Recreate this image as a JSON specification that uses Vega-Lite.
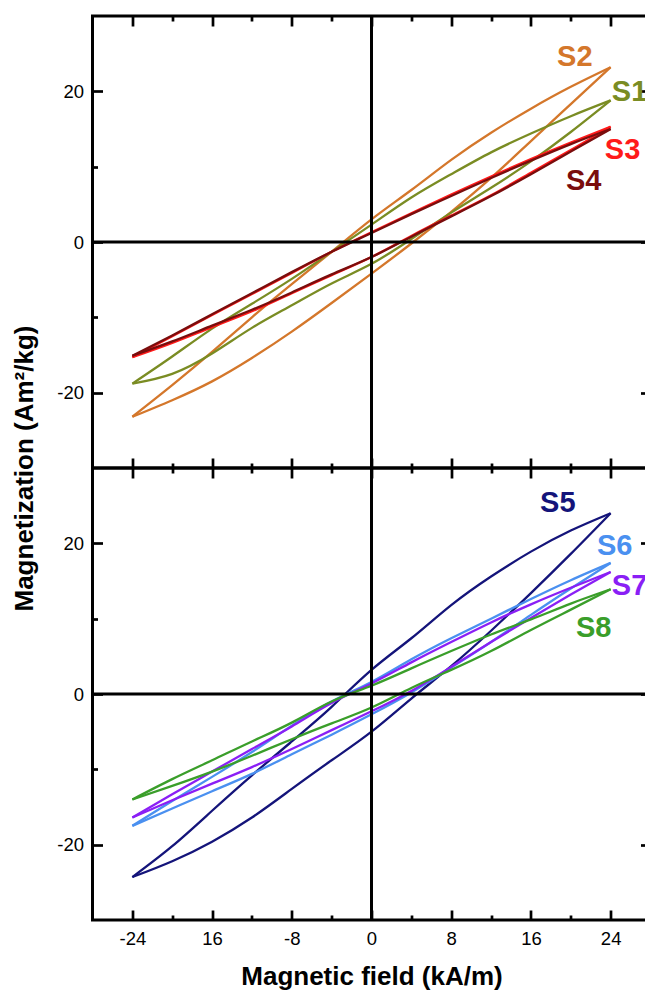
{
"$schema": "https://vega.github.io/schema/vega-lite/v6.json",
"padding": {"left": 9.5, "top": 13, "right": -6, "bottom": 0},
"background": "white",
"spacing": 0,
"bounds": "flush",
"config": {
  "view": {"stroke": "black", "strokeWidth": 3},
  "font": "Liberation Sans",
  "axis": {"grid": false, "domain": false, "tickColor": "black", "tickWidth": 2.7, "labelColor": "black", "labelFont": "Liberation Sans", "labelFontSize": 18.5, "titleFont": "Liberation Sans", "titleFontSize": 26, "titleFontWeight": "bold", "titleColor": "black"}
},
"datasets": {
"labels": [
{"panel":"top","sample":"S2","H":20.4,"M":24.5},
{"panel":"top","sample":"S1","H":25.9,"M":19.9},
{"panel":"top","sample":"S3","H":25.2,"M":12.2},
{"panel":"top","sample":"S4","H":21.3,"M":8.1},
{"panel":"bottom","sample":"S5","H":18.7,"M":25.4},
{"panel":"bottom","sample":"S6","H":24.4,"M":19.7},
{"panel":"bottom","sample":"S7","H":25.9,"M":14.3},
{"panel":"bottom","sample":"S8","H":22.3,"M":8.8}
],
"loops": [
{"panel":"top","sample":"S2","branch":"upper","H":-24,"M":-23.2},
{"panel":"top","sample":"S2","branch":"upper","H":-20,"M":-19.0},
{"panel":"top","sample":"S2","branch":"upper","H":-16,"M":-14.6},
{"panel":"top","sample":"S2","branch":"upper","H":-12,"M":-10.0},
{"panel":"top","sample":"S2","branch":"upper","H":-8,"M":-5.6},
{"panel":"top","sample":"S2","branch":"upper","H":-4,"M":-1.3},
{"panel":"top","sample":"S2","branch":"upper","H":0,"M":3.0},
{"panel":"top","sample":"S2","branch":"upper","H":4,"M":6.9},
{"panel":"top","sample":"S2","branch":"upper","H":8,"M":10.9},
{"panel":"top","sample":"S2","branch":"upper","H":12,"M":14.5},
{"panel":"top","sample":"S2","branch":"upper","H":16,"M":17.7},
{"panel":"top","sample":"S2","branch":"upper","H":20,"M":20.6},
{"panel":"top","sample":"S2","branch":"upper","H":24,"M":23.2},
{"panel":"top","sample":"S2","branch":"lower","H":-24,"M":-23.2},
{"panel":"top","sample":"S2","branch":"lower","H":-20,"M":-21.0},
{"panel":"top","sample":"S2","branch":"lower","H":-16,"M":-18.5},
{"panel":"top","sample":"S2","branch":"lower","H":-12,"M":-15.4},
{"panel":"top","sample":"S2","branch":"lower","H":-8,"M":-11.9},
{"panel":"top","sample":"S2","branch":"lower","H":-4,"M":-8.1},
{"panel":"top","sample":"S2","branch":"lower","H":0,"M":-4.2},
{"panel":"top","sample":"S2","branch":"lower","H":4,"M":-0.2},
{"panel":"top","sample":"S2","branch":"lower","H":8,"M":4.0},
{"panel":"top","sample":"S2","branch":"lower","H":12,"M":8.5},
{"panel":"top","sample":"S2","branch":"lower","H":16,"M":13.4},
{"panel":"top","sample":"S2","branch":"lower","H":20,"M":18.3},
{"panel":"top","sample":"S2","branch":"lower","H":24,"M":23.2},
{"panel":"top","sample":"S1","branch":"upper","H":-24,"M":-18.8},
{"panel":"top","sample":"S1","branch":"upper","H":-20,"M":-15.2},
{"panel":"top","sample":"S1","branch":"upper","H":-16,"M":-11.5},
{"panel":"top","sample":"S1","branch":"upper","H":-12,"M":-8.2},
{"panel":"top","sample":"S1","branch":"upper","H":-8,"M":-4.9},
{"panel":"top","sample":"S1","branch":"upper","H":-4,"M":-1.3},
{"panel":"top","sample":"S1","branch":"upper","H":0,"M":2.3},
{"panel":"top","sample":"S1","branch":"upper","H":4,"M":5.9},
{"panel":"top","sample":"S1","branch":"upper","H":8,"M":9.0},
{"panel":"top","sample":"S1","branch":"upper","H":12,"M":11.9},
{"panel":"top","sample":"S1","branch":"upper","H":16,"M":14.4},
{"panel":"top","sample":"S1","branch":"upper","H":20,"M":16.7},
{"panel":"top","sample":"S1","branch":"upper","H":24,"M":18.8},
{"panel":"top","sample":"S1","branch":"lower","H":-24,"M":-18.8},
{"panel":"top","sample":"S1","branch":"lower","H":-20,"M":-17.5},
{"panel":"top","sample":"S1","branch":"lower","H":-16,"M":-14.8},
{"panel":"top","sample":"S1","branch":"lower","H":-12,"M":-11.4},
{"panel":"top","sample":"S1","branch":"lower","H":-8,"M":-8.4},
{"panel":"top","sample":"S1","branch":"lower","H":-4,"M":-5.5},
{"panel":"top","sample":"S1","branch":"lower","H":0,"M":-2.9},
{"panel":"top","sample":"S1","branch":"lower","H":4,"M":0.4},
{"panel":"top","sample":"S1","branch":"lower","H":8,"M":3.9},
{"panel":"top","sample":"S1","branch":"lower","H":12,"M":7.2},
{"panel":"top","sample":"S1","branch":"lower","H":16,"M":10.7},
{"panel":"top","sample":"S1","branch":"lower","H":20,"M":14.6},
{"panel":"top","sample":"S1","branch":"lower","H":24,"M":18.8},
{"panel":"top","sample":"S3","branch":"upper","H":-24,"M":-15.3},
{"panel":"top","sample":"S3","branch":"upper","H":-20,"M":-12.5},
{"panel":"top","sample":"S3","branch":"upper","H":-16,"M":-9.7},
{"panel":"top","sample":"S3","branch":"upper","H":-12,"M":-6.9},
{"panel":"top","sample":"S3","branch":"upper","H":-8,"M":-4.1},
{"panel":"top","sample":"S3","branch":"upper","H":-4,"M":-1.3},
{"panel":"top","sample":"S3","branch":"upper","H":0,"M":1.3},
{"panel":"top","sample":"S3","branch":"upper","H":4,"M":3.8},
{"panel":"top","sample":"S3","branch":"upper","H":8,"M":6.3},
{"panel":"top","sample":"S3","branch":"upper","H":12,"M":8.7},
{"panel":"top","sample":"S3","branch":"upper","H":16,"M":11.0},
{"panel":"top","sample":"S3","branch":"upper","H":20,"M":13.2},
{"panel":"top","sample":"S3","branch":"upper","H":24,"M":15.3},
{"panel":"top","sample":"S3","branch":"lower","H":-24,"M":-15.3},
{"panel":"top","sample":"S3","branch":"lower","H":-20,"M":-13.4},
{"panel":"top","sample":"S3","branch":"lower","H":-16,"M":-11.3},
{"panel":"top","sample":"S3","branch":"lower","H":-12,"M":-9.2},
{"panel":"top","sample":"S3","branch":"lower","H":-8,"M":-6.8},
{"panel":"top","sample":"S3","branch":"lower","H":-4,"M":-4.4},
{"panel":"top","sample":"S3","branch":"lower","H":0,"M":-2.0},
{"panel":"top","sample":"S3","branch":"lower","H":4,"M":0.8},
{"panel":"top","sample":"S3","branch":"lower","H":8,"M":3.5},
{"panel":"top","sample":"S3","branch":"lower","H":12,"M":6.2},
{"panel":"top","sample":"S3","branch":"lower","H":16,"M":9.2},
{"panel":"top","sample":"S3","branch":"lower","H":20,"M":12.2},
{"panel":"top","sample":"S3","branch":"lower","H":24,"M":15.3},
{"panel":"top","sample":"S4","branch":"upper","H":-24,"M":-15.1},
{"panel":"top","sample":"S4","branch":"upper","H":-20,"M":-12.4},
{"panel":"top","sample":"S4","branch":"upper","H":-16,"M":-9.6},
{"panel":"top","sample":"S4","branch":"upper","H":-12,"M":-6.8},
{"panel":"top","sample":"S4","branch":"upper","H":-8,"M":-4.0},
{"panel":"top","sample":"S4","branch":"upper","H":-4,"M":-1.3},
{"panel":"top","sample":"S4","branch":"upper","H":0,"M":1.2},
{"panel":"top","sample":"S4","branch":"upper","H":4,"M":3.7},
{"panel":"top","sample":"S4","branch":"upper","H":8,"M":6.1},
{"panel":"top","sample":"S4","branch":"upper","H":12,"M":8.5},
{"panel":"top","sample":"S4","branch":"upper","H":16,"M":10.8},
{"panel":"top","sample":"S4","branch":"upper","H":20,"M":13.0},
{"panel":"top","sample":"S4","branch":"upper","H":24,"M":15.0},
{"panel":"top","sample":"S4","branch":"lower","H":-24,"M":-15.1},
{"panel":"top","sample":"S4","branch":"lower","H":-20,"M":-13.2},
{"panel":"top","sample":"S4","branch":"lower","H":-16,"M":-11.1},
{"panel":"top","sample":"S4","branch":"lower","H":-12,"M":-9.0},
{"panel":"top","sample":"S4","branch":"lower","H":-8,"M":-6.7},
{"panel":"top","sample":"S4","branch":"lower","H":-4,"M":-4.3},
{"panel":"top","sample":"S4","branch":"lower","H":0,"M":-2.0},
{"panel":"top","sample":"S4","branch":"lower","H":4,"M":0.7},
{"panel":"top","sample":"S4","branch":"lower","H":8,"M":3.4},
{"panel":"top","sample":"S4","branch":"lower","H":12,"M":6.1},
{"panel":"top","sample":"S4","branch":"lower","H":16,"M":9.0},
{"panel":"top","sample":"S4","branch":"lower","H":20,"M":12.0},
{"panel":"top","sample":"S4","branch":"lower","H":24,"M":15.0},
{"panel":"bottom","sample":"S5","branch":"upper","H":-24,"M":-24.3},
{"panel":"bottom","sample":"S5","branch":"upper","H":-20,"M":-20.2},
{"panel":"bottom","sample":"S5","branch":"upper","H":-16,"M":-15.5},
{"panel":"bottom","sample":"S5","branch":"upper","H":-12,"M":-10.8},
{"panel":"bottom","sample":"S5","branch":"upper","H":-8,"M":-6.3},
{"panel":"bottom","sample":"S5","branch":"upper","H":-4,"M":-1.7},
{"panel":"bottom","sample":"S5","branch":"upper","H":0,"M":3.2},
{"panel":"bottom","sample":"S5","branch":"upper","H":4,"M":7.4},
{"panel":"bottom","sample":"S5","branch":"upper","H":8,"M":11.8},
{"panel":"bottom","sample":"S5","branch":"upper","H":12,"M":15.6},
{"panel":"bottom","sample":"S5","branch":"upper","H":16,"M":18.9},
{"panel":"bottom","sample":"S5","branch":"upper","H":20,"M":21.7},
{"panel":"bottom","sample":"S5","branch":"upper","H":24,"M":24.0},
{"panel":"bottom","sample":"S5","branch":"lower","H":-24,"M":-24.3},
{"panel":"bottom","sample":"S5","branch":"lower","H":-20,"M":-22.2},
{"panel":"bottom","sample":"S5","branch":"lower","H":-16,"M":-19.6},
{"panel":"bottom","sample":"S5","branch":"lower","H":-12,"M":-16.4},
{"panel":"bottom","sample":"S5","branch":"lower","H":-8,"M":-12.6},
{"panel":"bottom","sample":"S5","branch":"lower","H":-4,"M":-8.8},
{"panel":"bottom","sample":"S5","branch":"lower","H":0,"M":-5.0},
{"panel":"bottom","sample":"S5","branch":"lower","H":4,"M":-0.6},
{"panel":"bottom","sample":"S5","branch":"lower","H":8,"M":3.7},
{"panel":"bottom","sample":"S5","branch":"lower","H":12,"M":8.4},
{"panel":"bottom","sample":"S5","branch":"lower","H":16,"M":13.4},
{"panel":"bottom","sample":"S5","branch":"lower","H":20,"M":18.6},
{"panel":"bottom","sample":"S5","branch":"lower","H":24,"M":24.0},
{"panel":"bottom","sample":"S6","branch":"upper","H":-24,"M":-17.5},
{"panel":"bottom","sample":"S6","branch":"upper","H":-20,"M":-14.2},
{"panel":"bottom","sample":"S6","branch":"upper","H":-16,"M":-11.0},
{"panel":"bottom","sample":"S6","branch":"upper","H":-12,"M":-7.7},
{"panel":"bottom","sample":"S6","branch":"upper","H":-8,"M":-4.2},
{"panel":"bottom","sample":"S6","branch":"upper","H":-4,"M":-1.0},
{"panel":"bottom","sample":"S6","branch":"upper","H":0,"M":1.6},
{"panel":"bottom","sample":"S6","branch":"upper","H":4,"M":4.6},
{"panel":"bottom","sample":"S6","branch":"upper","H":8,"M":7.4},
{"panel":"bottom","sample":"S6","branch":"upper","H":12,"M":10.0},
{"panel":"bottom","sample":"S6","branch":"upper","H":16,"M":12.6},
{"panel":"bottom","sample":"S6","branch":"upper","H":20,"M":15.1},
{"panel":"bottom","sample":"S6","branch":"upper","H":24,"M":17.4},
{"panel":"bottom","sample":"S6","branch":"lower","H":-24,"M":-17.5},
{"panel":"bottom","sample":"S6","branch":"lower","H":-20,"M":-15.2},
{"panel":"bottom","sample":"S6","branch":"lower","H":-16,"M":-12.9},
{"panel":"bottom","sample":"S6","branch":"lower","H":-12,"M":-10.6},
{"panel":"bottom","sample":"S6","branch":"lower","H":-8,"M":-8.0},
{"panel":"bottom","sample":"S6","branch":"lower","H":-4,"M":-5.4},
{"panel":"bottom","sample":"S6","branch":"lower","H":0,"M":-2.7},
{"panel":"bottom","sample":"S6","branch":"lower","H":4,"M":0.2},
{"panel":"bottom","sample":"S6","branch":"lower","H":8,"M":3.5},
{"panel":"bottom","sample":"S6","branch":"lower","H":12,"M":6.9},
{"panel":"bottom","sample":"S6","branch":"lower","H":16,"M":10.5},
{"panel":"bottom","sample":"S6","branch":"lower","H":20,"M":14.0},
{"panel":"bottom","sample":"S6","branch":"lower","H":24,"M":17.4},
{"panel":"bottom","sample":"S7","branch":"upper","H":-24,"M":-16.4},
{"panel":"bottom","sample":"S7","branch":"upper","H":-20,"M":-13.3},
{"panel":"bottom","sample":"S7","branch":"upper","H":-16,"M":-10.3},
{"panel":"bottom","sample":"S7","branch":"upper","H":-12,"M":-7.3},
{"panel":"bottom","sample":"S7","branch":"upper","H":-8,"M":-4.3},
{"panel":"bottom","sample":"S7","branch":"upper","H":-4,"M":-1.2},
{"panel":"bottom","sample":"S7","branch":"upper","H":0,"M":1.4},
{"panel":"bottom","sample":"S7","branch":"upper","H":4,"M":4.2},
{"panel":"bottom","sample":"S7","branch":"upper","H":8,"M":6.9},
{"panel":"bottom","sample":"S7","branch":"upper","H":12,"M":9.5},
{"panel":"bottom","sample":"S7","branch":"upper","H":16,"M":11.9},
{"panel":"bottom","sample":"S7","branch":"upper","H":20,"M":14.1},
{"panel":"bottom","sample":"S7","branch":"upper","H":24,"M":16.2},
{"panel":"bottom","sample":"S7","branch":"lower","H":-24,"M":-16.4},
{"panel":"bottom","sample":"S7","branch":"lower","H":-20,"M":-14.1},
{"panel":"bottom","sample":"S7","branch":"lower","H":-16,"M":-11.9},
{"panel":"bottom","sample":"S7","branch":"lower","H":-12,"M":-9.7},
{"panel":"bottom","sample":"S7","branch":"lower","H":-8,"M":-7.3},
{"panel":"bottom","sample":"S7","branch":"lower","H":-4,"M":-4.8},
{"panel":"bottom","sample":"S7","branch":"lower","H":0,"M":-2.3},
{"panel":"bottom","sample":"S7","branch":"lower","H":4,"M":0.4},
{"panel":"bottom","sample":"S7","branch":"lower","H":8,"M":3.6},
{"panel":"bottom","sample":"S7","branch":"lower","H":12,"M":6.9},
{"panel":"bottom","sample":"S7","branch":"lower","H":16,"M":10.1},
{"panel":"bottom","sample":"S7","branch":"lower","H":20,"M":13.2},
{"panel":"bottom","sample":"S7","branch":"lower","H":24,"M":16.2},
{"panel":"bottom","sample":"S8","branch":"upper","H":-24,"M":-14.0},
{"panel":"bottom","sample":"S8","branch":"upper","H":-20,"M":-11.3},
{"panel":"bottom","sample":"S8","branch":"upper","H":-16,"M":-8.8},
{"panel":"bottom","sample":"S8","branch":"upper","H":-12,"M":-6.3},
{"panel":"bottom","sample":"S8","branch":"upper","H":-8,"M":-3.8},
{"panel":"bottom","sample":"S8","branch":"upper","H":-4,"M":-1.0},
{"panel":"bottom","sample":"S8","branch":"upper","H":0,"M":1.1},
{"panel":"bottom","sample":"S8","branch":"upper","H":4,"M":3.4},
{"panel":"bottom","sample":"S8","branch":"upper","H":8,"M":5.7},
{"panel":"bottom","sample":"S8","branch":"upper","H":12,"M":7.9},
{"panel":"bottom","sample":"S8","branch":"upper","H":16,"M":9.9},
{"panel":"bottom","sample":"S8","branch":"upper","H":20,"M":12.0},
{"panel":"bottom","sample":"S8","branch":"upper","H":24,"M":13.9},
{"panel":"bottom","sample":"S8","branch":"lower","H":-24,"M":-14.0},
{"panel":"bottom","sample":"S8","branch":"lower","H":-20,"M":-12.2},
{"panel":"bottom","sample":"S8","branch":"lower","H":-16,"M":-10.3},
{"panel":"bottom","sample":"S8","branch":"lower","H":-12,"M":-8.2},
{"panel":"bottom","sample":"S8","branch":"lower","H":-8,"M":-6.0},
{"panel":"bottom","sample":"S8","branch":"lower","H":-4,"M":-3.9},
{"panel":"bottom","sample":"S8","branch":"lower","H":0,"M":-1.8},
{"panel":"bottom","sample":"S8","branch":"lower","H":4,"M":0.8},
{"panel":"bottom","sample":"S8","branch":"lower","H":8,"M":3.2},
{"panel":"bottom","sample":"S8","branch":"lower","H":12,"M":5.7},
{"panel":"bottom","sample":"S8","branch":"lower","H":16,"M":8.5},
{"panel":"bottom","sample":"S8","branch":"lower","H":20,"M":11.2},
{"panel":"bottom","sample":"S8","branch":"lower","H":24,"M":13.9}
]
},
"vconcat": [
{
  "width": 558, "height": 452,
  "layer": [
    {
      "data": {"name": "loops"},
      "transform": [{"filter": "datum.panel == 'top'"}],
      "mark": {"type": "line", "interpolate": "natural"},
      "encoding": {
        "x": {"field": "H", "type": "quantitative", "scale": {"domain": [-28, 28], "nice": false, "zero": false},
              "axis": {"orient": "bottom", "values": [-24,-20,-16,-12,-8,-4,0,4,8,12,16,20,24], "labels": false, "title": null,
                       "tickSize": {"condition": {"test": "datum.value % 8 == 0", "value": -10}, "value": -5}}},
        "y": {"field": "M", "type": "quantitative", "scale": {"domain": [-30, 30], "nice": false, "zero": false},
              "axis": {"orient": "left", "values": [-20,-10,0,10,20],
                       "labelExpr": "datum.value % 20 != 0 ? '' : '' + datum.value", "labelPadding": 19,
                       "tickSize": {"condition": {"test": "datum.value % 20 == 0", "value": -10}, "value": -5},
                       "title": "Magnetization (Am²/kg)", "titleX": -60, "titleY": 452, "titleAngle": 270, "titleAlign": "center", "titleBaseline": "alphabetic"}},
        "color": {"field": "sample", "type": "nominal", "legend": null,
                  "scale": {"domain": ["S1","S2","S3","S4","S5","S6","S7","S8"], "range": ["#7a8c23","#d4772b","#ff1a1a","#7a0d0d","#14147a","#4a90f0","#8a1ff5","#3a9e2a"]}},
        "strokeWidth": {"field": "sample", "type": "ordinal", "legend": null,
                  "scale": {"domain": ["S1","S2","S3","S4","S5","S6","S7","S8"], "range": [2.3,2.3,3.8,2.8,2.3,3.3,3.3,3]}},
        "detail": {"field": "branch", "type": "nominal"}
      }
    },
    {
      "data": {"values": [{}]},
      "mark": {"type": "rule", "color": "black", "strokeWidth": 3},
      "encoding": {
        "x": {"datum": 0, "type": "quantitative", "scale": {"domain": [-28, 28], "nice": false, "zero": false},
              "axis": {"orient": "top", "values": [-24,-20,-16,-12,-8,-4,0,4,8,12,16,20,24], "labels": false, "title": null,
                       "tickSize": {"condition": {"test": "datum.value % 8 == 0", "value": -10}, "value": -5}}}
      }
    },
    {
      "data": {"values": [{}]},
      "mark": {"type": "rule", "color": "black", "strokeWidth": 3},
      "encoding": {
        "y": {"datum": 0, "type": "quantitative", "scale": {"domain": [-30, 30], "nice": false, "zero": false},
              "axis": {"orient": "right", "values": [-20,-10,0,10,20], "labels": false, "title": null,
                       "tickSize": {"condition": {"test": "datum.value % 20 == 0", "value": -10}, "value": -5}}}
      }
    },
    {
      "data": {"name": "labels"},
      "transform": [{"filter": "datum.panel == 'top'"}],
      "mark": {"type": "text", "fontSize": 29, "fontWeight": "bold", "font": "Liberation Sans", "align": "center", "baseline": "middle"},
      "encoding": {
        "x": {"field": "H", "type": "quantitative", "axis": null},
        "y": {"field": "M", "type": "quantitative", "axis": null},
        "text": {"field": "sample"},
        "color": {"field": "sample", "type": "nominal", "legend": null}
      }
    }
  ],
  "resolve": {"axis": {"x": "independent", "y": "independent"}}
},
{
  "width": 558, "height": 452,
  "layer": [
    {
      "data": {"name": "loops"},
      "transform": [{"filter": "datum.panel == 'bottom'"}],
      "mark": {"type": "line", "interpolate": "natural"},
      "encoding": {
        "x": {"field": "H", "type": "quantitative", "scale": {"domain": [-28, 28], "nice": false, "zero": false},
              "axis": {"orient": "bottom", "values": [-24,-20,-16,-12,-8,-4,0,4,8,12,16,20,24],
                       "labelExpr": "datum.value % 8 != 0 ? '' : (datum.value == -16 ? '16' : '' + datum.value)", "labelPadding": 19,
                       "tickSize": {"condition": {"test": "datum.value % 8 == 0", "value": -10}, "value": -5},
                       "title": "Magnetic field (kA/m)", "titleY": 64, "titleBaseline": "alphabetic"}},
        "y": {"field": "M", "type": "quantitative", "scale": {"domain": [-30, 30], "nice": false, "zero": false},
              "axis": {"orient": "left", "values": [-20,-10,0,10,20],
                       "labelExpr": "datum.value % 20 != 0 ? '' : '' + datum.value", "labelPadding": 19,
                       "tickSize": {"condition": {"test": "datum.value % 20 == 0", "value": -10}, "value": -5},
                       "title": null}},
        "color": {"field": "sample", "type": "nominal", "legend": null,
                  "scale": {"domain": ["S1","S2","S3","S4","S5","S6","S7","S8"], "range": ["#7a8c23","#d4772b","#ff1a1a","#7a0d0d","#14147a","#4a90f0","#8a1ff5","#3a9e2a"]}},
        "strokeWidth": {"field": "sample", "type": "ordinal", "legend": null,
                  "scale": {"domain": ["S1","S2","S3","S4","S5","S6","S7","S8"], "range": [2.3,2.3,3.8,2.8,2.3,3.3,3.3,3]}},
        "detail": {"field": "branch", "type": "nominal"}
      }
    },
    {
      "data": {"values": [{}]},
      "mark": {"type": "rule", "color": "black", "strokeWidth": 3},
      "encoding": {
        "x": {"datum": 0, "type": "quantitative", "scale": {"domain": [-28, 28], "nice": false, "zero": false},
              "axis": {"orient": "top", "values": [-24,-20,-16,-12,-8,-4,0,4,8,12,16,20,24], "labels": false, "title": null,
                       "tickSize": {"condition": {"test": "datum.value % 8 == 0", "value": -10}, "value": -5}}}
      }
    },
    {
      "data": {"values": [{}]},
      "mark": {"type": "rule", "color": "black", "strokeWidth": 3},
      "encoding": {
        "y": {"datum": 0, "type": "quantitative", "scale": {"domain": [-30, 30], "nice": false, "zero": false},
              "axis": {"orient": "right", "values": [-20,-10,0,10,20], "labels": false, "title": null,
                       "tickSize": {"condition": {"test": "datum.value % 20 == 0", "value": -10}, "value": -5}}}
      }
    },
    {
      "data": {"name": "labels"},
      "transform": [{"filter": "datum.panel == 'bottom'"}],
      "mark": {"type": "text", "fontSize": 29, "fontWeight": "bold", "font": "Liberation Sans", "align": "center", "baseline": "middle"},
      "encoding": {
        "x": {"field": "H", "type": "quantitative", "axis": null},
        "y": {"field": "M", "type": "quantitative", "axis": null},
        "text": {"field": "sample"},
        "color": {"field": "sample", "type": "nominal", "legend": null}
      }
    }
  ],
  "resolve": {"axis": {"x": "independent", "y": "independent"}}
}
]
}
